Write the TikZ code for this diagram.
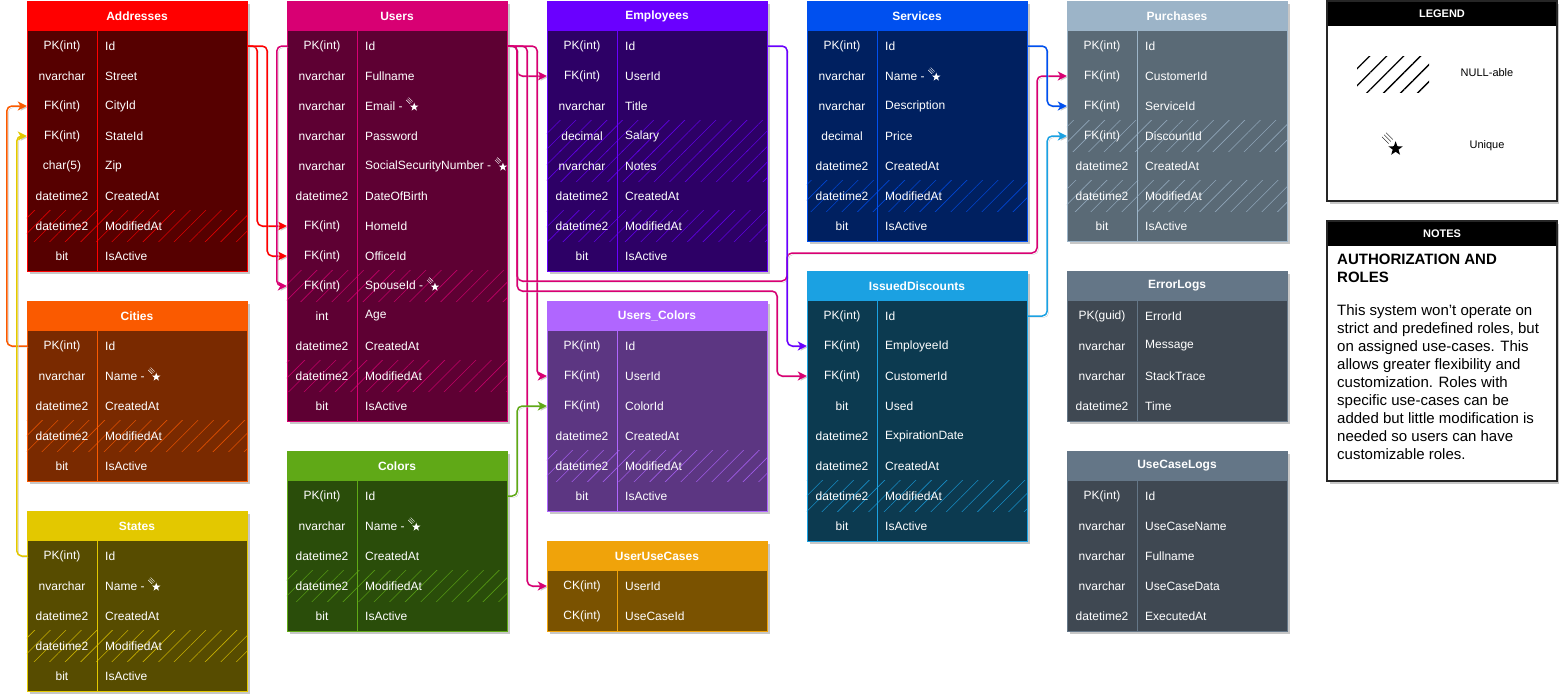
\documentclass[tikz,border=0pt]{standalone}
\usepackage{fontspec}
\setmainfont{Liberation Sans}
\usetikzlibrary{arrows.meta, patterns.meta}

\definecolor{addrhead}{HTML}{FF0000}  \definecolor{addrbody}{HTML}{560000}
\definecolor{userhead}{HTML}{D80073}  \definecolor{userbody}{HTML}{5E0033}
\definecolor{emphead}{HTML}{6A00FF}   \definecolor{empbody}{HTML}{2D0066}
\definecolor{servhead}{HTML}{0050EF}  \definecolor{servbody}{HTML}{002060}
\definecolor{purchhead}{HTML}{9CB4C8} \definecolor{purchbody}{HTML}{5A6A76}
\definecolor{cityhead}{HTML}{FA5A00}  \definecolor{citybody}{HTML}{7A2A00}
\definecolor{statehead}{HTML}{E3C800} \definecolor{statebody}{HTML}{574C00}
\definecolor{colorhead}{HTML}{60A917} \definecolor{colorbody}{HTML}{2A4D0A}
\definecolor{ucolhead}{HTML}{B066FF}  \definecolor{ucolbody}{HTML}{5C3682}
\definecolor{uuchead}{HTML}{F0A30A}   \definecolor{uucbody}{HTML}{7A5200}
\definecolor{dischead}{HTML}{1BA1E2}  \definecolor{discbody}{HTML}{0C3A50}
\definecolor{loghead}{HTML}{647687}   \definecolor{logbody}{HTML}{3F4852}

\tikzset{
    tabshadow/.style={fill=black!22},
    tabhead/.style={minimum width=220pt, minimum height=30pt, inner sep=0pt, text=white, font=\bfseries\fontsize{12}{14}\selectfont},
    tabrow/.style={minimum width=220pt, minimum height=30pt, inner sep=0pt},
    typetext/.style={inner sep=0pt, text=white, font=\fontsize{12}{14}\selectfont},
    nametext/.style={anchor=west, inner sep=0pt, text=white, font=\fontsize{12}{14}\selectfont},
    fklink/.style={draw=#1, line width=1.5pt, rounded corners=5pt,
        -{Stealth[length=9pt, width=9pt, inset=2.5pt]},
        preaction={draw=black!20, transform canvas={shift={(1.5pt,-1.5pt)}}}},
    boxhead/.style={fill=black, minimum width=230pt, minimum height=25pt, inner sep=0pt, text=white, font=\bfseries\fontsize{11}{13}\selectfont},
    boxline/.style={draw=black!85, line width=1.5pt},
    legtext/.style={inner sep=0pt, font=\fontsize{11}{13}\selectfont},
    notetext/.style={anchor=base west, align=left, inner sep=0pt, font=\fontsize{15}{18}\selectfont},
    uniq/.pic={
        \draw[line width=0.4pt] (0,-6) -- (4,-2) (1.2,-7.2) -- (5.2,-3.2) (2.4,-8.4) -- (6.4,-4.4);
        \fill (8,1) +(-90:4.4) -- +(-54:1.8) -- +(-18:4.4) -- +(18:1.8) -- +(54:4.4)
            -- +(90:1.8) -- +(126:4.4) -- +(162:1.8) -- +(198:4.4) -- +(234:1.8) -- cycle;
    },
}

% #1 name, #2 x, #3 y, #4 head colour, #5 body colour, #6 title, #7 rows, #8 fields
\newcommand{\dbtable}[8]{%
    \fill[tabshadow] ({#2+3},{#3+3}) rectangle ({#2+223},{#3+33+30*#7});
    \fill[#5] (#2,#3) rectangle ({#2+220},{#3+30+30*#7});
    \node[tabhead, fill=#4] (#1) at ({#2+110},{#3+15}) {#6};
    \foreach \rtype/\rname/\rnull/\runiq [count=\i] in {#8} {
        \node[tabrow] (#1-\i) at ({#2+110},{#3+15+30*\i}) {};
        \ifnum\rnull=1
            \fill[pattern={Lines[angle=45, distance=11pt, line width=0.6pt]}, pattern color=#4!80!#5]
                (#1-\i.north west) rectangle (#1-\i.south east);
        \fi
        \node[typetext] (#1-\i-t) at ({#2+35},{#3+15+30*\i}) {\rtype};
        \node[nametext] (#1-\i-n) at ({#2+78},{#3+15+30*\i}) {\rname};
        \ifnum\runiq=1
            \pic[white] at ([xshift=3.5pt]#1-\i-n.east) {uniq};
        \fi
    }
    \draw[#4, line width=1pt] ({#2+70},{#3+30}) -- ({#2+70},{#3+30+30*#7});
    \draw[#4, line width=1pt] (#2,#3) rectangle ({#2+220},{#3+30+30*#7});
}

\begin{document}
\begin{tikzpicture}[x=1pt, y=-1pt]
    \useasboundingbox (0,0) rectangle (1559,696);

    \dbtable{addr}{27}{1}{addrhead}{addrbody}{Addresses}{8}{PK(int)/Id/0/0, nvarchar/Street/0/0, FK(int)/CityId/0/0, FK(int)/StateId/0/0, char(5)/Zip/0/0, datetime2/CreatedAt/0/0, datetime2/ModifiedAt/1/0, bit/IsActive/0/0}
    \dbtable{users}{287}{1}{userhead}{userbody}{Users}{13}{PK(int)/Id/0/0, nvarchar/Fullname/0/0, nvarchar/Email -/0/1, nvarchar/Password/0/0, nvarchar/SocialSecurityNumber -/0/1, datetime2/DateOfBirth/0/0, FK(int)/HomeId/0/0, FK(int)/OfficeId/0/0, FK(int)/SpouseId -/1/1, int/Age/0/0, datetime2/CreatedAt/0/0, datetime2/ModifiedAt/1/0, bit/IsActive/0/0}
    \dbtable{emp}{547}{1}{emphead}{empbody}{Employees}{8}{PK(int)/Id/0/0, FK(int)/UserId/0/0, nvarchar/Title/0/0, decimal/Salary/1/0, nvarchar/Notes/1/0, datetime2/CreatedAt/0/0, datetime2/ModifiedAt/1/0, bit/IsActive/0/0}
    \dbtable{serv}{807}{1}{servhead}{servbody}{Services}{7}{PK(int)/Id/0/0, nvarchar/Name -/0/1, nvarchar/Description/0/0, decimal/Price/0/0, datetime2/CreatedAt/0/0, datetime2/ModifiedAt/1/0, bit/IsActive/0/0}
    \dbtable{purch}{1067}{1}{purchhead}{purchbody}{Purchases}{7}{PK(int)/Id/0/0, FK(int)/CustomerId/0/0, FK(int)/ServiceId/0/0, FK(int)/DiscountId/1/0, datetime2/CreatedAt/0/0, datetime2/ModifiedAt/1/0, bit/IsActive/0/0}
    \dbtable{city}{27}{301}{cityhead}{citybody}{Cities}{5}{PK(int)/Id/0/0, nvarchar/Name -/0/1, datetime2/CreatedAt/0/0, datetime2/ModifiedAt/1/0, bit/IsActive/0/0}
    \dbtable{state}{27}{511}{statehead}{statebody}{States}{5}{PK(int)/Id/0/0, nvarchar/Name -/0/1, datetime2/CreatedAt/0/0, datetime2/ModifiedAt/1/0, bit/IsActive/0/0}
    \dbtable{color}{287}{451}{colorhead}{colorbody}{Colors}{5}{PK(int)/Id/0/0, nvarchar/Name -/0/1, datetime2/CreatedAt/0/0, datetime2/ModifiedAt/1/0, bit/IsActive/0/0}
    \dbtable{ucol}{547}{301}{ucolhead}{ucolbody}{Users\_Colors}{6}{PK(int)/Id/0/0, FK(int)/UserId/0/0, FK(int)/ColorId/0/0, datetime2/CreatedAt/0/0, datetime2/ModifiedAt/1/0, bit/IsActive/0/0}
    \dbtable{uuc}{547}{541}{uuchead}{uucbody}{UserUseCases}{2}{CK(int)/UserId/0/0, CK(int)/UseCaseId/0/0}
    \dbtable{disc}{807}{271}{dischead}{discbody}{IssuedDiscounts}{8}{PK(int)/Id/0/0, FK(int)/EmployeeId/0/0, FK(int)/CustomerId/0/0, bit/Used/0/0, datetime2/ExpirationDate/0/0, datetime2/CreatedAt/0/0, datetime2/ModifiedAt/1/0, bit/IsActive/0/0}
    \dbtable{err}{1067}{271}{loghead}{logbody}{ErrorLogs}{4}{PK(guid)/ErrorId/0/0, nvarchar/Message/0/0, nvarchar/StackTrace/0/0, datetime2/Time/0/0}
    \dbtable{uclog}{1067}{451}{loghead}{logbody}{UseCaseLogs}{5}{PK(int)/Id/0/0, nvarchar/UseCaseName/0/0, nvarchar/Fullname/0/0, nvarchar/UseCaseData/0/0, datetime2/ExecutedAt/0/0}

    % foreign keys
    \draw[fklink=addrhead] (addr-1.east) -- ++(10,0) |- (users-7.west);
    \draw[fklink=addrhead] (addr-1.east) -- ++(20,0) |- (users-8.west);
    \draw[fklink=userhead] (users-1.west) -- ++(-10,0) |- (users-9.west);
    \draw[fklink=userhead] (users-1.east) -- ++(10,0) |- (emp-2.west);
    \draw[fklink=userhead] (users-1.east) -- ++(30,0) |- (ucol-2.west);
    \draw[fklink=userhead] (users-1.east) -- ++(20,0) |- (uuc-1.west);
    \draw[fklink=userhead] (users-1.east) -- ++(10,0) |- (787,281) |- (1037,253) |- (purch-2.west);
    \draw[fklink=userhead] (users-1.east) -- ++(10,0) |- (777,291) |- (disc-3.west);
    \draw[fklink=emphead] (emp-1.east) -- ++(20,0) |- (disc-2.west);
    \draw[fklink=servhead] (serv-1.east) -- ++(20,0) |- (purch-3.west);
    \draw[fklink=dischead] (disc-1.east) -- ++(20,0) |- (purch-4.west);
    \draw[fklink=cityhead] (city-1.west) -- ++(-20,0) |- (addr-3.west);
    \draw[fklink=statehead] (state-1.west) -- ++(-10,0) |- (addr-4.west);
    \draw[fklink=colorhead] (color-1.east) -- ++(10,0) |- (ucol-3.west);

    % legend
    \fill[tabshadow] (1330,4) rectangle (1560,204);
    \fill[white] (1327,1) rectangle (1557,201);
    \node[boxhead] (leghead) at (1442,13.5) {LEGEND};
    \draw[boxline] (1327,1) rectangle (1557,201);
    \fill[pattern={Lines[angle=45, distance=12pt, line width=1.3pt]}, pattern color=black] (1357,56) rectangle (1429,92);
    \node[legtext] (legnull) at (1487,73) {NULL-able};
    \pic[black, scale=1.7] at (1382,147) {uniq};
    \node[legtext] (leguniq) at (1487,146) {Unique};

    % notes
    \fill[tabshadow] (1330,224) rectangle (1560,484);
    \fill[white] (1327,221) rectangle (1557,481);
    \node[boxhead] (notehead) at (1442,233.5) {NOTES};
    \draw[boxline] (1327,221) rectangle (1557,481);
    \node[notetext, font=\bfseries\fontsize{15}{18}\selectfont] (notetitle) at (1337,282.5) {AUTHORIZATION AND\\ROLES};
    \node[notetext] (notebody) at (1337,459.5) {This system won't operate on\\strict and predefined roles, but\\on assigned use-cases. This\\allows greater flexibility and\\customization. Roles with\\specific use-cases can be\\added but little modification is\\needed so users can have\\customizable roles.};
\end{tikzpicture}
\end{document}
